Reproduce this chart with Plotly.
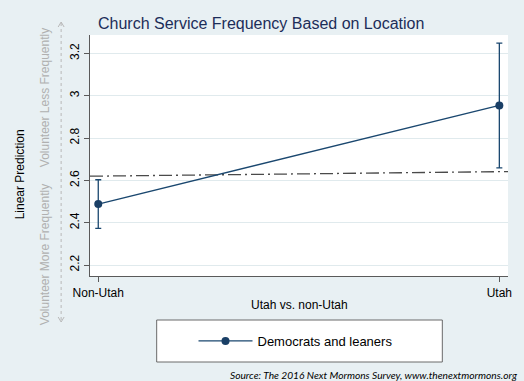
import plotly.graph_objects as go

# ---- data ----
categories = ["Non-Utah", "Utah"]
predictions = [2.488, 2.954]
ci_lower = [2.373, 2.659]
ci_upper = [2.603, 3.249]
reference_line = [2.620, 2.641]
y_ticks = [2.2, 2.4, 2.6, 2.8, 3.0, 3.2]
y_tick_labels = ["2.2", "2.4", "2.6", "2.8", "3", "3.2"]
series_name = "Democrats and leaners"
title_text = "Church Service Frequency Based on Location"
x_title = "Utah vs. non-Utah"
y_title = "Linear Prediction"
upper_note = "Volunteer Less Frequently"
lower_note = "Volunteer More Frequently"
source_text = "Source: The 2016 Next Mormons Survey, www.thenextmormons.org"

# ---- layout constants ----
W, H = 524, 381
L, R, T, B = 90, 14, 35, 105
PW, PH = W - L - R, H - T - B
x_range = [-0.0206, 1.0216]
y_range = [2.148, 3.287]

BG = "rgb(232,240,243)"
GRID = "rgb(224,234,237)"
NAVY = "#1a476f"
AXIS = "#5a5a5a"
FONT = "Liberation Sans"


def px(x):
    return (x - L) / PW


def py(y):
    return (T + PH - y) / PH


xpos = list(range(len(categories)))
err_plus = [u - p for u, p in zip(ci_upper, predictions)]
err_minus = [p - l for p, l in zip(predictions, ci_lower)]

slope = (reference_line[1] - reference_line[0]) / (xpos[1] - xpos[0])
ref_x = list(x_range)
ref_y = [reference_line[0] + slope * (x - xpos[0]) for x in ref_x]

fig = go.Figure()
fig.add_trace(go.Scatter(
    x=ref_x, y=ref_y, mode="lines", showlegend=False, hoverinfo="skip",
    line=dict(color="#4a4a4a", width=1.3, dash="13px,4px,2px,4px"),
    cliponaxis=True,
))
fig.add_trace(go.Scatter(
    x=xpos, y=predictions, mode="lines+markers", name=series_name,
    line=dict(color=NAVY, width=1.3),
    marker=dict(color="#1a3f66", size=8),
    error_y=dict(type="data", symmetric=False, array=err_plus, arrayminus=err_minus,
                 color=NAVY, thickness=1.3, width=3),
    cliponaxis=False,
))

shapes = [
    # legend box
    dict(type="rect", xref="paper", yref="paper",
         x0=px(157), x1=px(444), y0=py(362), y1=py(320),
         line=dict(color="#6a6a6a", width=1), fillcolor="white", layer="below"),
    # dotted arrow line
    dict(type="line", xref="paper", yref="paper",
         x0=px(61), x1=px(61), y0=py(23), y1=py(321),
         line=dict(color="#b8b8b8", width=1, dash="dot")),
    dict(type="path", xref="paper", yref="paper",
         path=f"M{px(58)},{py(27)} L{px(61)},{py(22)} L{px(64)},{py(27)}",
         line=dict(color="#b8b8b8", width=1)),
    dict(type="path", xref="paper", yref="paper",
         path=f"M{px(58)},{py(317)} L{px(61)},{py(322)} L{px(64)},{py(317)}",
         line=dict(color="#b8b8b8", width=1)),
]

annotations = [
    dict(text=y_title, xref="paper", yref="paper", x=px(20), y=py(174),
         textangle=-90, showarrow=False, font=dict(size=12, color="black", family=FONT),
         xanchor="center", yanchor="middle"),
    dict(text=upper_note, xref="paper", yref="paper", x=px(45), y=py(98),
         textangle=-90, showarrow=False, font=dict(size=12, color="#b0b0b0", family=FONT),
         xanchor="center", yanchor="middle"),
    dict(text=lower_note, xref="paper", yref="paper", x=px(45), y=py(255),
         textangle=-90, showarrow=False, font=dict(size=12, color="#b0b0b0", family=FONT),
         xanchor="center", yanchor="middle"),
    dict(text=x_title, xref="paper", yref="paper", x=0.5, y=py(305),
         showarrow=False, font=dict(size=12, color="black", family=FONT),
         xanchor="center", yanchor="middle"),
    dict(text=f"<i>{source_text}</i>", xref="paper", yref="paper", x=px(521), y=py(375),
         showarrow=False, font=dict(size=10.2, color="black", family="Lato"),
         xanchor="right", yanchor="middle"),
]

fig.update_layout(
    width=W, height=H,
    margin=dict(l=L, r=R, t=T, b=B),
    paper_bgcolor=BG, plot_bgcolor="white",
    font=dict(family=FONT, size=12, color="black"),
    title=dict(text=title_text, x=px(98), xanchor="left", xref="paper",
               y=1 - 23 / H, yanchor="middle", yref="container",
               font=dict(size=16, color="#1c2d59", family=FONT)),
    xaxis=dict(range=x_range, tickvals=xpos, ticktext=categories,
               showgrid=False, zeroline=False, showline=True, linecolor=AXIS,
               linewidth=1.3, ticks="outside", ticklen=5, tickcolor=AXIS,
               tickfont=dict(size=12), fixedrange=True),
    yaxis=dict(range=y_range, tickvals=y_ticks, ticktext=y_tick_labels,
               tickangle=-90, showgrid=True, gridcolor=GRID, gridwidth=1,
               zeroline=False, showline=True, linecolor=AXIS, linewidth=1.3,
               ticks="outside", ticklen=5, tickcolor=AXIS,
               tickfont=dict(size=12), fixedrange=True),
    showlegend=True,
    legend=dict(x=px(194), y=py(341), xanchor="left", yanchor="middle",
                xref="paper", yref="paper", bgcolor="rgba(0,0,0,0)",
                borderwidth=0, itemwidth=54, font=dict(size=13, family=FONT)),
    shapes=shapes,
    annotations=annotations,
)

fig.write_html(
    "out.html",
    config={"displayModeBar": False},
    post_script=(
        "document.body.style.margin='0';"
        "document.body.style.padding='0';"
        "document.body.style.overflow='hidden';"
        "document.body.style.background='" + BG + "';"
    ),
)
